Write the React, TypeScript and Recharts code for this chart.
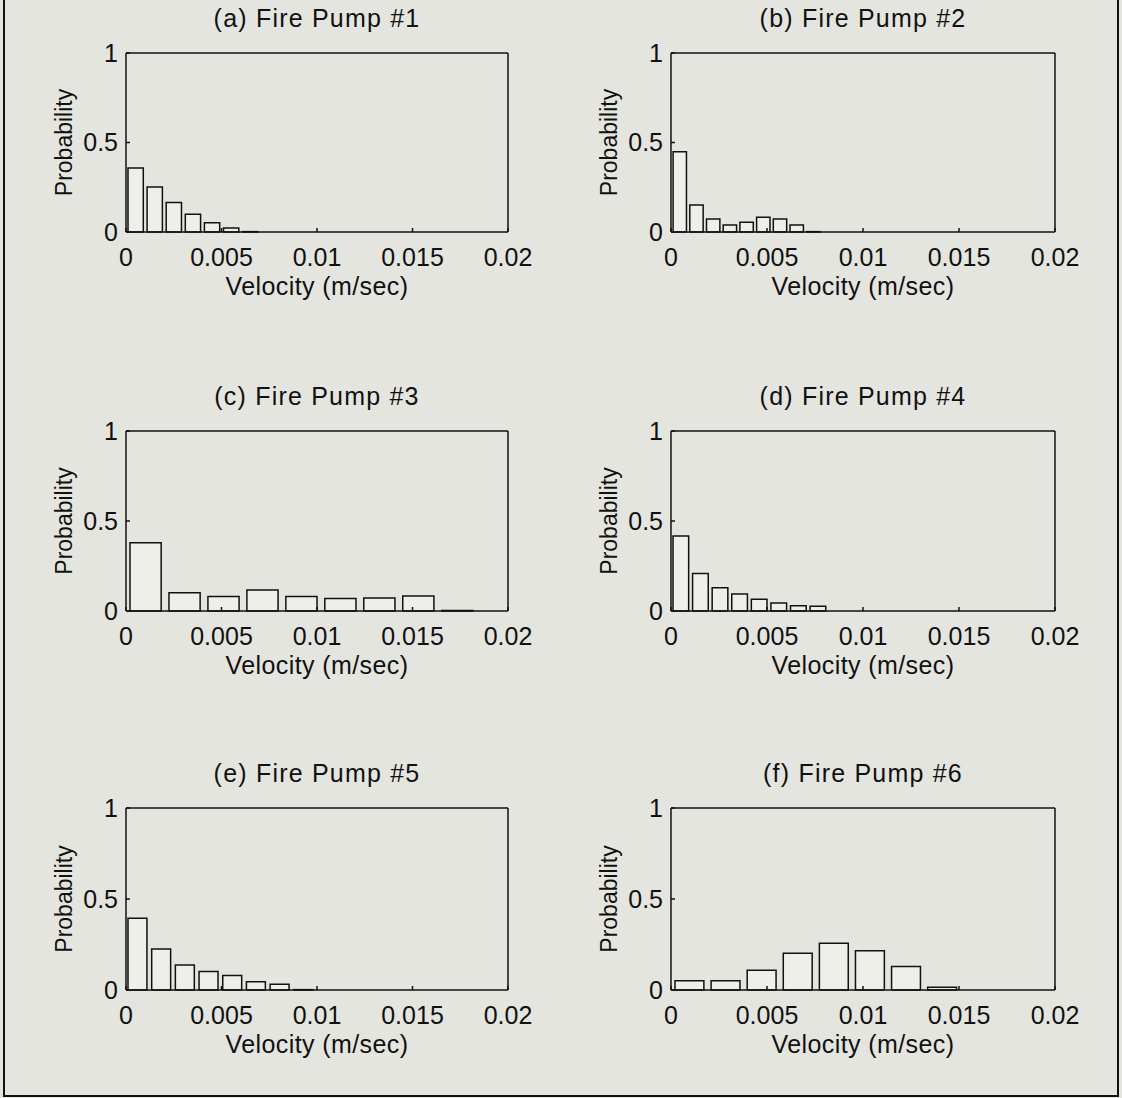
import { BarChart, Bar, XAxis, YAxis } from 'recharts';

// velocity bins (bin centres, m/sec) and probabilities
const xTicks = [0, 0.005, 0.01, 0.015, 0.02];
const yTicks = [0, 0.5, 1];

const pump1Centers = [0.0005, 0.0015, 0.0025, 0.0035, 0.0045, 0.0055, 0.0065];
const pump1Probs = [0.358, 0.251, 0.165, 0.099, 0.052, 0.022, 0.002];

const pump2Centers = [0.00044, 0.00131, 0.00218, 0.00305, 0.00392, 0.00479, 0.00566, 0.00653, 0.0074];
const pump2Probs = [0.448, 0.151, 0.073, 0.039, 0.054, 0.083, 0.073, 0.039, 0.002];

const pump3Centers = [0.00102, 0.00306, 0.0051, 0.00714, 0.00918, 0.01122, 0.01326, 0.0153, 0.01734];
const pump3Probs = [0.379, 0.102, 0.08, 0.117, 0.08, 0.069, 0.072, 0.083, 0.003];

const pump4Centers = [0.00051, 0.00153, 0.00255, 0.00357, 0.00459, 0.00561, 0.00663, 0.00765];
const pump4Probs = [0.416, 0.208, 0.129, 0.094, 0.065, 0.044, 0.029, 0.026];

const pump5Centers = [0.00062, 0.00186, 0.0031, 0.00434, 0.00558, 0.00682, 0.00806, 0.0093];
const pump5Probs = [0.394, 0.225, 0.138, 0.101, 0.079, 0.046, 0.031, 0.002];

const pump6Centers = [0.00094, 0.00282, 0.0047, 0.00658, 0.00846, 0.01034, 0.01222, 0.0141];
const pump6Probs = [0.051, 0.051, 0.109, 0.202, 0.257, 0.215, 0.129, 0.015];

const panels = [
  { title: '(a) Fire Pump #1', centers: pump1Centers, probs: pump1Probs, binWidth: 0.001, col: 0, row: 0 },
  { title: '(b) Fire Pump #2', centers: pump2Centers, probs: pump2Probs, binWidth: 0.00087, col: 1, row: 0 },
  { title: '(c) Fire Pump #3', centers: pump3Centers, probs: pump3Probs, binWidth: 0.00204, col: 0, row: 1 },
  { title: '(d) Fire Pump #4', centers: pump4Centers, probs: pump4Probs, binWidth: 0.00102, col: 1, row: 1 },
  { title: '(e) Fire Pump #5', centers: pump5Centers, probs: pump5Probs, binWidth: 0.00124, col: 0, row: 2 },
  { title: '(f) Fire Pump #6', centers: pump6Centers, probs: pump6Probs, binWidth: 0.00188, col: 1, row: 2 },
];

const COLS = [
  { x: 126, w: 382 },
  { x: 671, w: 384 },
];
const ROWS = [
  { y: 53, h: 179 },
  { y: 431, h: 180 },
  { y: 808, h: 182 },
];

const FONT = '"Liberation Sans", Arial, Helvetica, sans-serif';
const INK = '#111';
const BG = '#e5e5df';

const ML = 124; // y axis width
const MT = 24;
const MR = 40;
const XH = 108; // x axis height

const lineStyle = { stroke: INK, strokeWidth: 1.5 };
const tickStyle = { fill: INK, fontSize: 25, fontFamily: FONT };

function Panel({ p }: { p: (typeof panels)[number] }) {
  const col = COLS[p.col];
  const row = ROWS[p.row];
  // the top x axis and the right y axis take 1px each
  const width = ML + col.w + 1 + MR;
  const height = MT + 1 + row.h + XH;
  const data = p.centers.map((v, i) => ({ v, prob: p.probs[i] }));
  const barSize = ((0.8 * p.binWidth) / 0.02) * col.w;

  return (
    <>
      <div
        style={{
          position: 'absolute',
          left: col.x,
          width: col.w,
          top: row.y - 26 - 21,
          textAlign: 'center',
          fontSize: 25,
          lineHeight: '25px',
          letterSpacing: 1.2,
          color: INK,
          fontFamily: FONT,
        }}
      >
        {p.title}
      </div>
      <div style={{ position: 'absolute', left: col.x - ML, top: row.y - MT - 1 }}>
        <BarChart
          width={width}
          height={height}
          data={data}
          margin={{ top: MT, right: MR, bottom: 0, left: 0 }}
        >
          <XAxis
            dataKey='v'
            type='number'
            domain={[0, 0.02]}
            ticks={xTicks}
            height={XH}
            axisLine={lineStyle}
            tickLine={lineStyle}
            tickSize={-4}
            tickMargin={20}
            tick={tickStyle}
            interval={0}
            label={{
              value: 'Velocity (m/sec)',
              position: 'center',
              fill: INK,
              fontSize: 25,
              fontFamily: FONT,
              letterSpacing: 0.4,
            }}
          />
          <XAxis
            xAxisId='top'
            orientation='top'
            type='number'
            domain={[0, 0.02]}
            ticks={xTicks}
            height={1}
            axisLine={lineStyle}
            tickLine={lineStyle}
            tickSize={-4}
            tick={false}
            interval={0}
          />
          <YAxis
            type='number'
            domain={[0, 1]}
            ticks={yTicks}
            width={ML}
            axisLine={lineStyle}
            tickLine={lineStyle}
            tickSize={-4}
            tickMargin={12}
            tick={tickStyle}
            interval={0}
            label={{
              value: 'Probability',
              angle: -90,
              position: 'center',
              fill: INK,
              fontSize: 23,
              fontFamily: FONT,
            }}
          />
          <YAxis
            yAxisId='right'
            orientation='right'
            type='number'
            domain={[0, 1]}
            ticks={yTicks}
            width={1}
            axisLine={lineStyle}
            tickLine={lineStyle}
            tickSize={-4}
            tick={false}
            interval={0}
          />
          <Bar
            dataKey='prob'
            barSize={barSize}
            fill='#efefe9'
            stroke={INK}
            strokeWidth={1.5}
            isAnimationActive={false}
          />
        </BarChart>
      </div>
    </>
  );
}

export default function App() {
  return (
    <div
      style={{
        position: 'absolute',
        left: 0,
        top: 0,
        width: 1122,
        height: 1098,
        background: BG,
        fontFamily: FONT,
        overflow: 'hidden',
      }}
    >
      <div
        style={{
          position: 'absolute',
          left: 3,
          top: -4,
          width: 1116,
          height: 1101,
          boxSizing: 'border-box',
          borderLeft: `2px solid ${INK}`,
          borderRight: `2px solid ${INK}`,
          borderBottom: `2px solid ${INK}`,
        }}
      />
      {panels.map(p => (
        <Panel key={p.title} p={p} />
      ))}
    </div>
  );
}
